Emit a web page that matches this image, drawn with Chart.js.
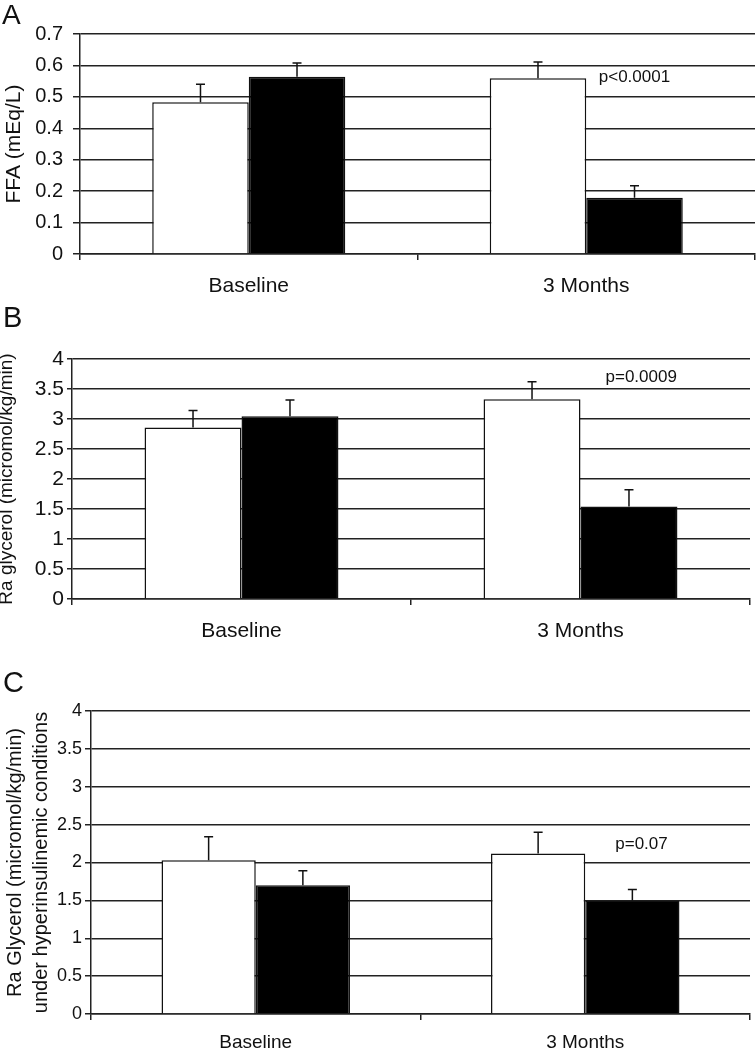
<!DOCTYPE html>
<html><head><meta charset="utf-8">
<script src="https://cdn.jsdelivr.net/npm/chart.js@4/dist/chart.umd.min.js"></script>
<style>
html,body{margin:0;padding:0;background:#fff;}
body{width:756px;height:1050px;position:relative;overflow:hidden;font-family:"Liberation Sans",Arial,sans-serif;}
canvas.panel{position:absolute;left:0;}
.letter{position:absolute;left:3px;color:#111;line-height:1;z-index:2;}
</style></head><body>
<canvas id="cA" class="panel" width="756" height="300" style="top:0px"></canvas>
<canvas id="cB" class="panel" width="756" height="350" style="top:300px"></canvas>
<canvas id="cC" class="panel" width="756" height="400" style="top:650px"></canvas>
<div class="letter" style="top:1px;font-size:28px;left:2px">A</div>
<div class="letter" style="top:303px;font-size:29px;left:3px">B</div>
<div class="letter" style="top:668px;font-size:29px;left:3px">C</div>
<script>
// ---- data ----
const categories = ['Baseline', '3 Months'];

const ffaWhite = [0.483, 0.559];
const ffaWhiteErr = [0.057, 0.052];
const ffaBlack = [0.564, 0.179];
const ffaBlackErr = [0.044, 0.038];
const ffaTicks = [0, 0.1, 0.2, 0.3, 0.4, 0.5, 0.6, 0.7];
const ffaTitle = 'FFA (mEq/L)';
const ffaP = 'p<0.0001';

const raWhite = [2.86, 3.33];
const raWhiteErr = [0.28, 0.29];
const raBlack = [3.045, 1.54];
const raBlackErr = [0.27, 0.28];
const raTicks = [0, 0.5, 1, 1.5, 2, 2.5, 3, 3.5, 4];
const raTitle = 'Ra glycerol (micromol/kg/min)';
const raP = 'p=0.0009';

const hyperWhite = [2.03, 2.12];
const hyperWhiteErr = [0.31, 0.28];
const hyperBlack = [1.70, 1.50];
const hyperBlackErr = [0.19, 0.145];
const hyperTicks = [0, 0.5, 1, 1.5, 2, 2.5, 3, 3.5, 4];
const hyperTitle = ['Ra Glycerol (micromol/kg/min)', 'under hyperinsulinemic conditions'];
const hyperP = 'p=0.07';

// ---- drawing ----
const FAM = '"Liberation Sans", Arial, Helvetica, sans-serif';
const INK = '#111';
const GRID = '#222';

const errorBars = {
  id: 'errorBars',
  afterDatasetsDraw(chart) {
    const ctx = chart.ctx, ys = chart.scales.y;
    chart.data.datasets.forEach((ds, i) => {
      const meta = chart.getDatasetMeta(i);
      meta.data.forEach((bar, j) => {
        const top = ys.getPixelForValue(ds.data[j] + ds.errors[j]);
        ctx.save();
        ctx.strokeStyle = INK; ctx.lineWidth = 1.5;
        ctx.beginPath();
        ctx.moveTo(bar.x, bar.y); ctx.lineTo(bar.x, top);
        ctx.moveTo(bar.x - 4.5, top); ctx.lineTo(bar.x + 4.5, top);
        ctx.stroke();
        ctx.restore();
      });
    });
  }
};

const pLabel = {
  id: 'pLabel',
  afterDatasetsDraw(chart, args, o) {
    if (!o || !o.text) return;
    const ctx = chart.ctx;
    const x = chart.scales.x.getPixelForValue(o.index) + o.dx;
    const y = chart.scales.y.getPixelForValue(o.value);
    ctx.save();
    ctx.fillStyle = INK;
    ctx.font = o.size + 'px ' + FAM;
    ctx.textAlign = 'left'; ctx.textBaseline = 'middle';
    ctx.fillText(o.text, x, y);
    ctx.restore();
  }
};

const sideTitle = {
  id: 'sideTitle',
  afterDraw(chart, args, o) {
    if (!o || !o.text) return;
    const ctx = chart.ctx, ca = chart.chartArea;
    ctx.save();
    ctx.fillStyle = INK;
    ctx.font = o.size + 'px ' + FAM;
    ctx.translate(o.x, (ca.top + ca.bottom) / 2 + o.shift);
    ctx.rotate(-Math.PI / 2);
    ctx.textAlign = 'center'; ctx.textBaseline = 'middle';
    ctx.fillText(o.text, 0, 0);
    ctx.restore();
  }
};

function makeChart(id, p) {
  return new Chart(document.getElementById(id), {
    type: 'bar',
    data: {
      labels: categories,
      datasets: [
        { data: p.white, errors: p.whiteErr, backgroundColor: '#ffffff', borderColor: INK, borderWidth: 1.5 },
        { data: p.black, errors: p.blackErr, backgroundColor: '#000000', borderColor: INK, borderWidth: 1.5 }
      ]
    },
    options: {
      responsive: false,
      animation: false,
      devicePixelRatio: 1,
      layout: { padding: { left: 0, right: p.padR, top: p.padT, bottom: 0 } },
      datasets: { bar: { categoryPercentage: 0.572, barPercentage: 1 } },
      plugins: {
        legend: { display: false },
        tooltip: { enabled: false },
        pLabel: p.pLabel,
        sideTitle: p.sideTitle || {}
      },
      scales: {
        x: {
          type: 'category',
          offset: true,
          grid: { offset: true, drawOnChartArea: false, drawTicks: true, tickLength: 6, color: GRID, lineWidth: 1.5 },
          border: { color: GRID, width: 1.5 },
          ticks: { color: INK, font: { size: p.xFont, family: FAM }, padding: p.xPad, maxRotation: 0, autoSkip: false },
          afterFit(s) { s.height = p.xH; }
        },
        y: {
          min: p.ticks[0], max: p.ticks[p.ticks.length - 1],
          afterBuildTicks(s) { s.ticks = p.ticks.map(v => ({ value: v })); },
          grid: { color: GRID, lineWidth: 1.5, drawTicks: true, tickLength: p.tickLen },
          border: { color: GRID, width: 1.5 },
          ticks: { color: INK, font: { size: p.yFont, family: FAM }, padding: p.yPad, callback: v => String(v) },
          title: p.title ? { display: true, text: p.title, color: INK, font: { size: p.titleFont, family: FAM, lineHeight: p.titleLH }, padding: { top: p.titlePad, bottom: 0 } } : { display: false },
          afterFit(s) { s.width = p.yW; }
        }
      }
    },
    plugins: [errorBars, pLabel, sideTitle]
  });
}

makeChart('cA', {
  white: ffaWhite, whiteErr: ffaWhiteErr, black: ffaBlack, blackErr: ffaBlackErr,
  ticks: ffaTicks, padR: 1, padT: 34, xH: 46, yW: 80,
  xFont: 21, xPad: 14, yFont: 20, yPad: 10, tickLen: 7,
  title: ffaTitle, titleFont: 21, titleLH: 1.2, titlePad: 2,
  pLabel: { text: ffaP, index: 1, value: 0.563, dx: 12.5, size: 17 }
});

makeChart('cB', {
  white: raWhite, whiteErr: raWhiteErr, black: raBlack, blackErr: raBlackErr,
  ticks: raTicks, padR: 6, padT: 59, xH: 51, yW: 72,
  xFont: 21, xPad: 14, yFont: 21, yPad: 3, tickLen: 5,
  title: null,
  sideTitle: { text: raTitle, x: 7, shift: 0, size: 19 },
  pLabel: { text: raP, index: 1, value: 3.69, dx: 25, size: 17 }
});

makeChart('cC', {
  white: hyperWhite, whiteErr: hyperWhiteErr, black: hyperBlack, blackErr: hyperBlackErr,
  ticks: hyperTicks, padR: 6, padT: 61, xH: 36, yW: 91,
  xFont: 19, xPad: 11, yFont: 18, yPad: 3, tickLen: 6,
  title: hyperTitle, titleFont: 20, titleLH: 1.3, titlePad: 2,
  pLabel: { text: hyperP, index: 1, value: 2.24, dx: 30, size: 17 }
});
</script>
</body></html>
